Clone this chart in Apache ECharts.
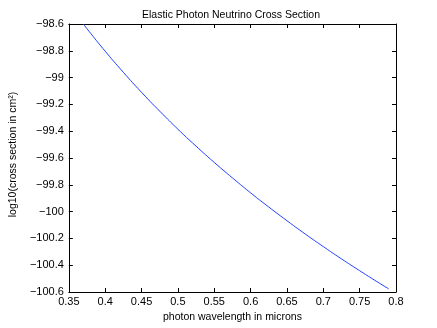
<!DOCTYPE html>
<html>
<head>
<meta charset="utf-8">
<script src="https://cdn.jsdelivr.net/npm/echarts@6/dist/echarts.min.js"></script>
<style>html,body{margin:0;padding:0;background:#fff;}#c{width:437px;height:328px;}</style>
</head>
<body>
<div id="c"></div>
<script>
const wavelength = [0.37, 0.38, 0.40, 0.42, 0.45, 0.48, 0.50, 0.52, 0.55, 0.58, 0.60, 0.62, 0.65, 0.68, 0.70, 0.72, 0.75, 0.77, 0.79];
const logCross = [-98.600, -98.670, -98.803, -98.930, -99.110, -99.278, -99.385, -99.487, -99.633, -99.771, -99.860, -99.945, -100.068, -100.186, -100.261, -100.335, -100.441, -100.510, -100.577];
const titleText = 'Elastic Photon Neutrino Cross Section';
const xName = 'photon wavelength in microns';
const yName = 'log10(cross section in cm²)';

const font = 'Liberation Sans, Arial, Helvetica, sans-serif';
const fmt = (d) => (v) => String(parseFloat(v.toFixed(d))).replace('-', '\u2212');
const chart = echarts.init(document.getElementById('c'), null, {renderer: 'canvas'});
const axisCommon = {
  axisLine: {show: true, onZero: false, lineStyle: {color: '#000', width: 1}},
  axisTick: {show: true, inside: true, length: 4, lineStyle: {color: '#000'}},
  splitLine: {show: false}
};
chart.setOption({
  animation: false,
  backgroundColor: '#fff',
  title: {text: titleText, left: 226, top: 5, textAlign: 'center',
    textStyle: {fontFamily: font, fontSize: 10.5, fontWeight: 'normal', color: '#000'}},
  grid: {left: 57, right: 41, top: 24, bottom: 36, containLabel: false},
  xAxis: [
    Object.assign({type: 'value', min: 0.35, max: 0.8, interval: 0.05, position: 'bottom',
      name: xName, nameLocation: 'middle', nameGap: 17,
      nameTextStyle: {fontFamily: font, fontSize: 10.5, color: '#000'},
      axisLabel: {formatter: fmt(2), fontFamily: font, fontSize: 11, color: '#000', margin: 4}}, axisCommon),
    Object.assign({type: 'value', min: 0.35, max: 0.8, interval: 0.05, position: 'top',
      axisLabel: {show: false}}, axisCommon)
  ],
  yAxis: [
    Object.assign({type: 'value', min: -100.6, max: -98.6, interval: 0.2, position: 'left',
      name: yName, nameLocation: 'middle', nameGap: 32,
      nameTextStyle: {fontFamily: font, fontSize: 10.5, color: '#000', padding: [0, 0, 0, 7]},
      axisLabel: {formatter: fmt(1), fontFamily: font, fontSize: 11, color: '#000', margin: 5}}, axisCommon),
    Object.assign({type: 'value', min: -100.6, max: -98.6, interval: 0.2, position: 'right',
      axisLabel: {show: false}}, axisCommon)
  ],
  series: [{
    type: 'line', smooth: true, showSymbol: false, symbol: 'none',
    data: wavelength.map((x, i) => [x, logCross[i]]),
    lineStyle: {color: '#2040ff', width: 1}
  }]
});
</script>
</body>
</html>
